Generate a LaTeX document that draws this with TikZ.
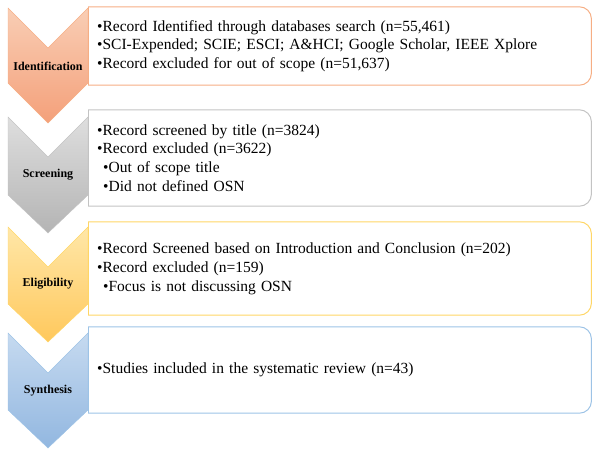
\documentclass[tikz,border=0pt]{standalone}
\usepackage{fontspec}
\setmainfont{Liberation Serif}
\usetikzlibrary{calc,positioning}
\definecolor{idtop}{HTML}{F9CEB5}
\definecolor{idbot}{HTML}{F4A07A}
\definecolor{idline}{HTML}{F6AE84}
\definecolor{sctop}{HTML}{DEDEDE}
\definecolor{scbot}{HTML}{B4B4B4}
\definecolor{scline}{HTML}{C3C3C3}
\definecolor{eltop}{HTML}{FFE7A8}
\definecolor{elbot}{HTML}{FFC85C}
\definecolor{elline}{HTML}{FFD666}
\definecolor{sytop}{HTML}{C6DAF0}
\definecolor{sybot}{HTML}{92B7E0}
\definecolor{syline}{HTML}{9DC3E6}
\tikzset{
  stage/.style={font=\fontsize{12}{14}\selectfont\bfseries, text=black},
  record/.style={anchor=west, text width=485pt, inner xsep=9pt, inner ysep=0pt,
    align=left, font=\fontsize{15.5}{18.8}\selectfont},
  frame/.style={line width=1pt, rounded corners=12pt},
}

\begin{document}
\begin{tikzpicture}[x=1pt,y=-1pt]
  \useasboundingbox (0,0) rectangle (600,456);
  % chevrons
  \shade[top color=idtop, bottom color=idbot, draw=idline]
    (8,8)--(48,48)--(88,8)--(88,83)--(48,123)--(8,83)--cycle;
  \shade[top color=sctop, bottom color=scbot, draw=scline]
    (8,117)--(48,157)--(88,117)--(88,195)--(48,233)--(8,195)--cycle;
  \shade[top color=eltop, bottom color=elbot, draw=elline]
    (8,227)--(48,267)--(88,227)--(88,304)--(48,342)--(8,304)--cycle;
  \shade[top color=sytop, bottom color=sybot, draw=syline]
    (8,333)--(48,373)--(88,333)--(88,410)--(48,448)--(8,410)--cycle;
  \node[stage] (id) at (48,66) {Identification};
  \node[stage] (sc) at (48,175) {Screening};
  \node[stage] (el) at (48,284) {Eligibility};
  \node[stage] (sy) at (48,391) {Synthesis};
  % boxes
  \node[record, minimum height=78pt] (idrec) at (88,46) {%
    •Record Identified through databases search (n=55,461)\\
    •SCI-Expended; SCIE; ESCI; A\&HCI; Google Scholar, IEEE Xplore\\
    •Record excluded for out of scope (n=51,637)};
  \draw[idline, frame] (idrec.north west)--(idrec.north east)--(idrec.south east)--(idrec.south west);
  \draw[idline, line width=1pt] (idrec.north west)--(idrec.south west);
  \node[record, minimum height=96pt] (screc) at (88,158) {%
    •Record screened by title (n=3824)\\
    •Record excluded (n=3622)\\
    \hspace*{6pt}•Out of scope title\\
    \hspace*{6pt}•Did not defined OSN};
  \draw[scline, frame] (screc.north west)--(screc.north east)--(screc.south east)--(screc.south west);
  \draw[scline, line width=1pt] (screc.north west)--(screc.south west);
  \node[record, minimum height=93pt] (elrec) at (88,268.5) {%
    •Record Screened based on Introduction and Conclusion (n=202)\\
    •Record excluded (n=159)\\
    \hspace*{6pt}•Focus is not discussing OSN};
  \draw[elline, frame] (elrec.north west)--(elrec.north east)--(elrec.south east)--(elrec.south west);
  \draw[elline, line width=1pt] (elrec.north west)--(elrec.south west);
  \node[record, minimum height=86pt] (syrec) at (88,370) {%
    •Studies included in the systematic review (n=43)};
  \draw[syline, frame] (syrec.north west)--(syrec.north east)--(syrec.south east)--(syrec.south west);
  \draw[syline, line width=1pt] (syrec.north west)--(syrec.south west);
\end{tikzpicture}
\end{document}
